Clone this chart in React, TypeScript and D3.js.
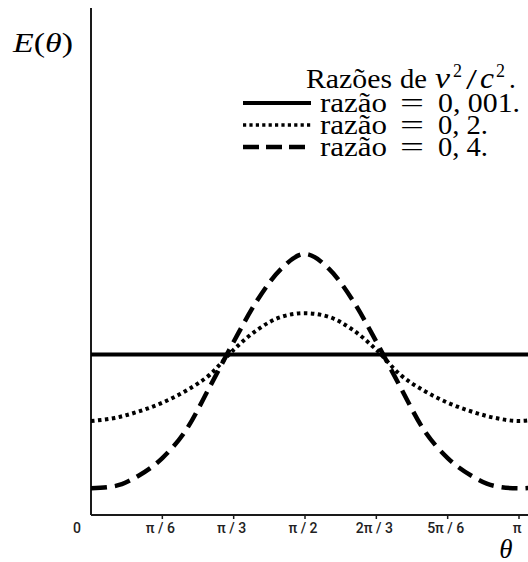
import React from "react";
import * as d3 from "d3";

const thetaDeg = [0, 10, 20, 30, 40, 50, 60, 70, 80, 90, 100, 110, 120, 130, 140, 150, 160, 170, 180, 190];
const ratio0001 = [1.0, 1.0, 1.0, 1.0, 1.0, 1.0, 1.0, 1.0, 1.0, 1.0, 1.0, 1.0, 1.0, 1.0, 1.0, 1.0, 1.0, 1.0, 1.0, 1.0];
const ratio02 = [0.586, 0.605, 0.645, 0.7, 0.775, 0.875, 1.03, 1.155, 1.235, 1.258, 1.235, 1.155, 1.03, 0.875, 0.775, 0.7, 0.645, 0.605, 0.586, 0.605];
const ratio04 = [0.166, 0.18, 0.245, 0.355, 0.53, 0.8, 1.08, 1.34, 1.535, 1.627, 1.535, 1.34, 1.08, 0.8, 0.53, 0.355, 0.245, 0.18, 0.166, 0.18];

const tickDeg = [0, 30, 60, 90, 120, 150, 180];
const tickLabels = ["0", "π / 6", "π / 3", "π / 2", "2π / 3", "5π / 6", "π"];

const legendValues = ["0, 001.", "0, 2.", "0, 4."];
const legendDash = ["none", "3.2,3.2", "16,7"];

const W = 528;
const H = 562;

export default function App() {
  const x = d3.scaleLinear().domain([0, 180]).range([91, 519]);
  const y = d3.scaleLinear().domain([0, 3.16]).range([515, 8]);
  const line = d3
    .line<number>()
    .x((_, i) => x(thetaDeg[i]))
    .y((d) => y(d))
    .curve(d3.curveMonotoneX);

  const serif = "'Liberation Serif', 'Times New Roman', serif";
  const sans = "Roboto, 'Noto Sans', sans-serif";
  const fs = 27;
  const sup = 18;

  return (
    <svg width={W} height={H} style={{ position: "absolute", left: 0, top: 0, background: "#fff" }}>
      <defs>
        <clipPath id="plot">
          <rect x={x(0)} y={0} width={W - x(0)} height={y(0)} />
        </clipPath>
      </defs>
      {/* axes */}
      <line x1={x(0)} y1={y(0)} x2={W} y2={y(0)} stroke="#1a1a1a" strokeWidth={2} />
      <line x1={x(0)} y1={y(0)} x2={x(0)} y2={y(3.16)} stroke="#1a1a1a" strokeWidth={2} />
      {tickDeg.map((t, i) => (
        <g key={t}>
          {i > 0 && <line x1={x(t)} x2={x(t)} y1={y(0)} y2={y(0) + 4} stroke="#1a1a1a" strokeWidth={1.5} />}
          <text
            x={i === 0 ? x(t) - 14 : x(t) - 2}
            y={533}
            textAnchor="middle"
            fontFamily={sans}
            fontWeight={500}
            fontSize={14}
            fill="#222"
          >
            {tickLabels[i]}
          </text>
        </g>
      ))}
      {/* curves */}
      <g clipPath="url(#plot)" fill="none" stroke="#000">
        <path d={line(ratio0001) || ""} strokeWidth={4} />
        <path d={line(ratio02) || ""} strokeWidth={4} strokeDasharray="3.5,3.5" />
        <path d={line(ratio04) || ""} strokeWidth={4.5} strokeDasharray="16,8" />
      </g>
      {/* axis labels */}
      <text x={13} y={52} fontFamily={serif} fontSize={28} fill="#000" textLength={60} lengthAdjust="spacingAndGlyphs">
        <tspan fontStyle="italic">E</tspan>
        <tspan>(</tspan>
        <tspan fontStyle="italic">θ</tspan>
        <tspan>)</tspan>
      </text>
      <text x={506} y={558} textAnchor="middle" fontFamily={serif} fontStyle="italic" fontSize={27} fill="#000">
        θ
      </text>
      {/* legend title */}
      <g fontFamily={serif} fill="#000">
        <text x={306} y={88} fontSize={fs} textLength={86} lengthAdjust="spacingAndGlyphs">Razões</text>
        <text x={400} y={88} fontSize={fs} textLength={27} lengthAdjust="spacingAndGlyphs">de</text>
        <text x={435} y={88} fontSize={30} fontStyle="italic" textLength={15} lengthAdjust="spacingAndGlyphs">v</text>
        <text x={453} y={77} fontSize={sup}>2</text>
        <text x={466} y={89} fontSize={30} textLength={11} lengthAdjust="spacingAndGlyphs">/</text>
        <text x={480} y={88} fontSize={30} fontStyle="italic" textLength={14} lengthAdjust="spacingAndGlyphs">c</text>
        <text x={496} y={77} fontSize={sup}>2</text>
        <text x={509} y={88} fontSize={fs}>.</text>
      </g>
      {/* legend entries */}
      {legendValues.map((v, i) => {
        const base = 112 + i * 22;
        const ly = base - 9;
        return (
          <g key={v} fontFamily={serif} fontSize={fs} fill="#000">
            <line
              x1={243}
              x2={311}
              y1={ly}
              y2={ly}
              stroke="#000"
              strokeWidth={i === 0 ? 4 : i === 1 ? 3.5 : 4.5}
              strokeDasharray={legendDash[i]}
            />
            <text x={320} y={base} textLength={67} lengthAdjust="spacingAndGlyphs">razão</text>
            <text x={400} y={base} textLength={24} lengthAdjust="spacingAndGlyphs">=</text>
            <text x={438} y={base} textLength={i === 0 ? 82 : 50} lengthAdjust="spacingAndGlyphs">{v}</text>
          </g>
        );
      })}
    </svg>
  );
}
